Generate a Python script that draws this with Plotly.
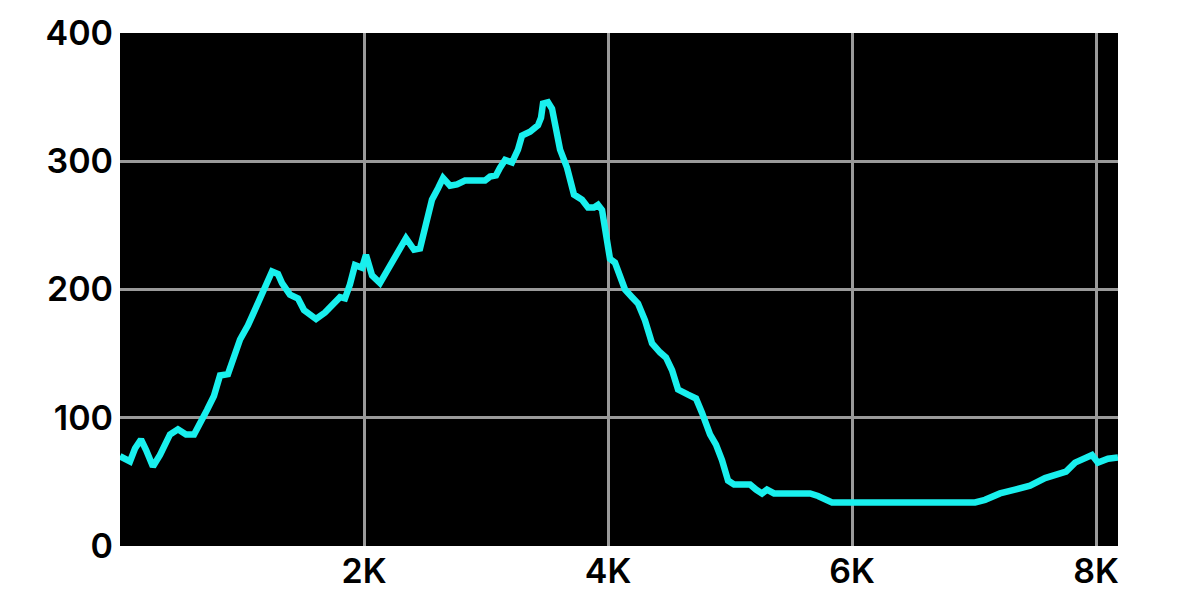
import plotly.graph_objects as go

# values
x_vals = [0, 82, 123, 172, 213, 270, 328, 410, 475, 541, 607, 656, 713, 770, 820, 885,
          934, 984, 1049, 1098, 1148, 1197, 1246, 1295, 1328, 1393, 1459, 1508, 1607,
          1680, 1754, 1803, 1844, 1885, 1926, 1984, 2016, 2066, 2131, 2213, 2295, 2344,
          2410, 2459, 2508, 2557, 2607, 2648, 2705, 2762, 2828, 2910, 2992, 3033, 3082,
          3115, 3156, 3213, 3262, 3295, 3361, 3426, 3451, 3467, 3508, 3541, 3574, 3607,
          3664, 3721, 3787, 3836, 3885, 3918, 3951, 3984, 4016, 4057, 4098, 4139, 4197,
          4246, 4303, 4361, 4426, 4475, 4525, 4574, 4656, 4721, 4770, 4836, 4885, 4934,
          4984, 5033, 5082, 5164, 5213, 5262, 5303, 5361, 5426, 5557, 5656, 5721, 5779,
          5836, 5943, 6066, 6189, 6311, 6434, 6557, 6680, 6844, 7008, 7090, 7213, 7336,
          7459, 7582, 7705, 7754, 7828, 7910, 7967, 8016, 8098, 8180]
y_vals = [70, 66, 76, 83, 75, 62, 71, 87, 91, 87, 87, 95, 106, 117, 133, 134,
          149, 161, 172, 182, 192, 203, 214, 212, 205, 196, 193, 184, 177,
          182, 189, 194, 193, 204, 219, 217, 227, 211, 205, 218, 232, 240,
          231, 232, 251, 270, 279, 287, 281, 282, 285, 285, 285, 288, 289,
          295, 301, 299, 309, 320, 323, 328, 334, 345, 346, 341, 324, 309,
          295, 274, 270, 264, 264, 266, 262, 242, 224, 221, 211, 200, 194,
          189, 176, 158, 151, 147, 137, 122, 118, 115, 104, 87, 79, 67,
          51, 48, 48, 48, 44, 41, 44, 41, 41, 41, 41, 39, 36,
          34, 34, 34, 34, 34, 34, 34, 34, 34, 34, 36, 41, 44,
          47, 53, 56, 58, 65, 69, 71, 65, 68, 69]

x_ticks = [2000, 4000, 6000, 8000]
x_labels = ["2K", "4K", "6K", "8K"]
y_ticks = [0, 100, 200, 300, 400]

fig = go.Figure(
    go.Scatter(
        x=x_vals,
        y=y_vals,
        mode="lines",
        line=dict(color="#19f0ee", width=6.5),
    )
)

# page body adds 8px, so size/margins are trimmed to land the plot where the reference has it
fig.update_layout(
    width=1163,
    height=584,
    margin=dict(l=112, r=53, t=25, b=46),
    paper_bgcolor="white",
    plot_bgcolor="black",
    showlegend=False,
    font=dict(family="Inter", size=34, color="black", weight=600),
)
fig.update_xaxes(
    range=[0, 8180],
    tickvals=x_ticks,
    ticktext=x_labels,
    showgrid=True,
    gridcolor="#9a9a9a",
    gridwidth=2.5,
    zeroline=False,
    ticks="",
    showline=False,
    ticklabelstandoff=2,
    automargin=False,
)
fig.update_yaxes(
    range=[0, 400],
    tickvals=y_ticks,
    showgrid=True,
    gridcolor="#9a9a9a",
    gridwidth=2.5,
    zeroline=False,
    ticks="",
    showline=False,
    ticklabelstandoff=6,
    automargin=False,
)

fig.write_html("out.html")
